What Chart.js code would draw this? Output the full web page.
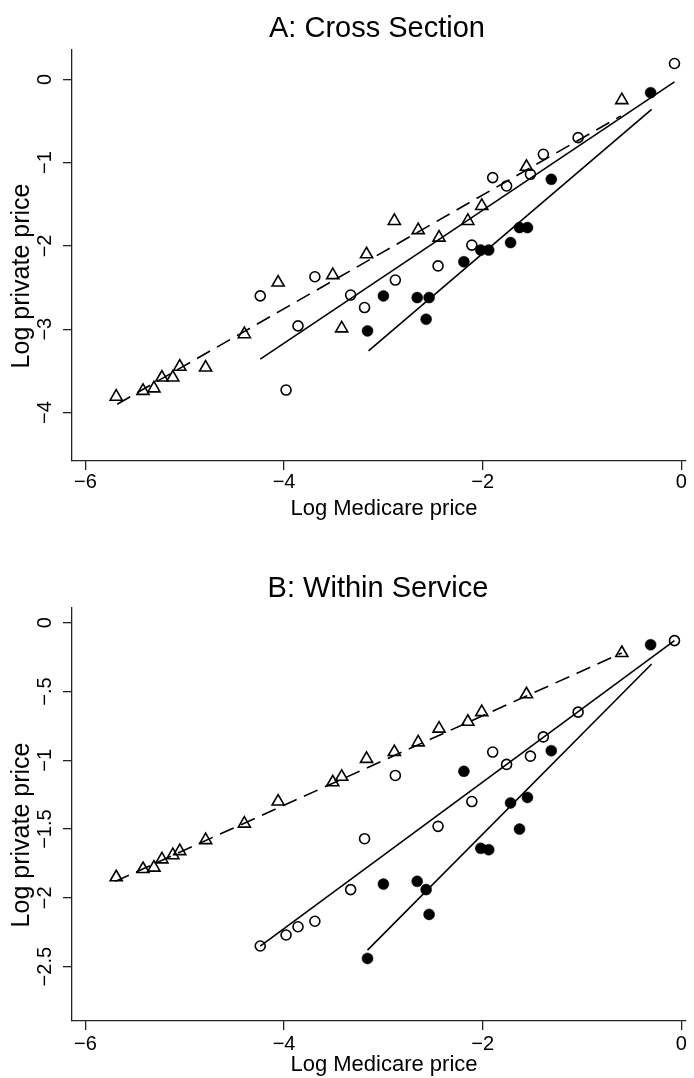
<!DOCTYPE html>
<html><head><meta charset="utf-8">
<script src="https://cdn.jsdelivr.net/npm/chart.js@4"></script>
<style>
html,body{margin:0;padding:0;background:#fff;}
#wrap{position:relative;width:694px;height:1078px;}
.c{position:absolute;left:0;width:694px;}
</style></head><body>
<div id="wrap">
<div class="c" style="top:0;height:530px"><canvas id="cA" width="694" height="530"></canvas></div>
<div class="c" style="top:530px;height:548px"><canvas id="cB" width="694" height="548"></canvas></div>
</div>
<script>
// ---- data ----
const xTicks = [-6, -4, -2, 0];
const xTickLabels = ["\u22126", "\u22124", "\u22122", "0"];
const yTicksA = [0, -1, -2, -3, -4];
const yTickLabelsA = ["0", "\u22121", "\u22122", "\u22123", "\u22124"];
const yTicksB = [0, -0.5, -1, -1.5, -2, -2.5];
const yTickLabelsB = ["0", "\u2212.5", "\u22121", "\u22121.5", "\u22122", "\u22122.5"];

const triX  = [-5.69,-5.42,-5.31,-5.23,-5.12,-5.05,-4.79,-4.40,-4.06,-3.51,-3.42,-3.17,-2.89,-2.65,-2.44,-2.15,-2.01,-1.56,-0.60];
const triYA = [-3.81,-3.74,-3.71,-3.58,-3.58,-3.45,-3.46,-3.06,-2.44,-2.35,-2.99,-2.10,-1.70,-1.81,-1.90,-1.70,-1.52,-1.05,-0.25];
const triYB = [-1.85,-1.79,-1.78,-1.72,-1.69,-1.66,-1.58,-1.46,-1.30,-1.16,-1.12,-0.99,-0.94,-0.87,-0.77,-0.72,-0.65,-0.52,-0.22];

const circX  = [-4.24,-3.98,-3.86,-3.69,-3.33,-3.19,-2.88,-2.45,-2.11,-1.90,-1.76,-1.52,-1.39,-1.04,-0.07];
const circYA = [-2.60,-3.73,-2.96,-2.37,-2.59,-2.74,-2.41,-2.24,-1.99,-1.18,-1.28,-1.14,-0.90,-0.70, 0.19];
const circYB = [-2.35,-2.27,-2.21,-2.17,-1.94,-1.57,-1.11,-1.48,-1.30,-0.94,-1.03,-0.97,-0.83,-0.65,-0.13];

const dotX  = [-3.16,-3.00,-2.66,-2.57,-2.54,-2.19,-2.02,-1.94,-1.72,-1.63,-1.55,-1.31,-0.31];
const dotYA = [-3.02,-2.60,-2.62,-2.88,-2.62,-2.19,-2.05,-2.05,-1.96,-1.78,-1.78,-1.20,-0.16];
const dotYB = [-2.44,-1.90,-1.88,-1.94,-2.12,-1.08,-1.64,-1.65,-1.31,-1.50,-1.27,-0.93,-0.16];

// fitted lines (end points)
const fitTriXA = [-5.68, -0.61], fitTriYA = [-3.90, -0.44];
const fitCircXA = [-4.24, -0.07], fitCircYA = [-3.36, -0.03];
const fitDotXA = [-3.15, -0.30], fitDotYA = [-3.26, -0.36];
const fitTriXB = [-5.70, -0.60], fitTriYB = [-1.88, -0.22];
const fitCircXB = [-4.24, -0.07], fitCircYB = [-2.35, -0.13];
const fitDotXB = [-3.16, -0.30], fitDotYB = [-2.38, -0.30];

// ---- drawing ----
const FAMILY = '"Liberation Sans", Arial, Helvetica, sans-serif';
Chart.defaults.font.family = FAMILY;
const TICK_FS = 20;
const pts = (xs, ys) => xs.map((x, i) => ({x: x, y: ys[i]}));

const textPlugin = {
  id: 'texts',
  afterDraw(chart, args, o) {
    const ctx = chart.ctx;
    ctx.save();
    ctx.fillStyle = '#000';
    ctx.textAlign = 'center';
    ctx.textBaseline = 'alphabetic';
    ctx.font = o.titleSize + 'px ' + FAMILY;
    ctx.fillText(o.title, o.titleX, o.titleY);
    ctx.font = o.xTitleSize + 'px ' + FAMILY;
    ctx.fillText(o.xTitle, o.xTitleX, o.xTitleY);
    ctx.font = o.yTitleSize + 'px ' + FAMILY;
    ctx.translate(o.yTitleX, o.yTitleY);
    ctx.rotate(-Math.PI / 2);
    ctx.fillText(o.yTitle, 0, 0);
    ctx.restore();
  }
};

function build(id, p) {
  const c = document.getElementById(id);
  const mctx = c.getContext('2d');
  mctx.font = TICK_FS + 'px ' + FAMILY;
  const widest = Math.max.apply(null, p.yLabels.map(s => mctx.measureText(s).width));
  const yPad = 72 - 9 - 45 - widest / 2;
  const lineDs = (xs, ys, dash) => ({data: pts(xs, ys), showLine: true, borderDash: dash, borderColor: '#000',
    borderWidth: 1.6, pointRadius: 0, fill: false, clip: false});
  new Chart(c, {
    type: 'scatter',
    data: {datasets: [
      lineDs(p.fitTri[0], p.fitTri[1], [15, 8]),
      lineDs(p.fitCirc[0], p.fitCirc[1], []),
      lineDs(p.fitDot[0], p.fitDot[1], []),
      {data: pts(triX, p.triY), pointStyle: 'triangle', pointRadius: 7, borderColor: '#000', borderWidth: 1.6,
        backgroundColor: 'rgba(0,0,0,0)', showLine: false, clip: false},
      {data: pts(circX, p.circY), pointStyle: 'circle', pointRadius: 5, borderColor: '#000', borderWidth: 1.6,
        backgroundColor: 'rgba(0,0,0,0)', showLine: false, clip: false},
      {data: pts(dotX, p.dotY), pointStyle: 'circle', pointRadius: 5.5, borderColor: '#000', borderWidth: 0.5,
        backgroundColor: '#000', showLine: false, clip: false}
    ]},
    options: {
      responsive: false, animation: false, events: [],
      layout: {padding: {left: 0, right: 6, top: p.areaTop, bottom: p.canvasH - p.areaBottom - p.xAxisH}},
      plugins: {legend: {display: false}, tooltip: {enabled: false}, texts: p.texts},
      scales: {
        x: {type: 'linear', min: -6.135, max: 0.04,
          afterFit(s) { s.height = p.xAxisH; },
          afterBuildTicks(s) { s.ticks = xTicks.map(v => ({value: v})); },
          ticks: {callback: (v, i) => xTickLabels[i], font: {size: TICK_FS}, color: '#000', padding: p.xPad,
            autoSkip: false, maxRotation: 0, minRotation: 0},
          grid: {display: true, drawOnChartArea: false, drawTicks: true, tickLength: 9, color: '#222', lineWidth: 1.3},
          border: {display: true, color: '#222', width: 1.3}
        },
        y: {type: 'linear', min: p.yMin, max: p.yMax,
          afterFit(s) { s.width = 72; },
          afterBuildTicks(s) { s.ticks = p.yTicks.map(v => ({value: v})); },
          ticks: {callback: (v, i) => p.yLabels[i], font: {size: TICK_FS}, color: '#000', padding: yPad,
            autoSkip: false, minRotation: 90, maxRotation: 90, crossAlign: 'center'},
          grid: {display: true, drawOnChartArea: false, drawTicks: true, tickLength: 9, color: '#222', lineWidth: 1.3},
          border: {display: true, color: '#222', width: 1.3}
        }
      }
    },
    plugins: [textPlugin]
  });
}

build('cA', {
  canvasH: 530, areaTop: 50, areaBottom: 461, xAxisH: 40, xPad: 0,
  yMin: -4.582, yMax: 0.352, yTicks: yTicksA, yLabels: yTickLabelsA,
  triY: triYA, circY: circYA, dotY: dotYA,
  fitTri: [fitTriXA, fitTriYA], fitCirc: [fitCircXA, fitCircYA], fitDot: [fitDotXA, fitDotYA],
  texts: {title: 'A: Cross Section', titleSize: 29, titleX: 377, titleY: 37,
    xTitle: 'Log Medicare price', xTitleSize: 22, xTitleX: 384, xTitleY: 515,
    yTitle: 'Log private price', yTitleSize: 25, yTitleX: 29, yTitleY: 276}
});
build('cB', {
  canvasH: 548, areaTop: 78, areaBottom: 491, xAxisH: 40, xPad: 2,
  yMin: -2.895, yMax: 0.107, yTicks: yTicksB, yLabels: yTickLabelsB,
  triY: triYB, circY: circYB, dotY: dotYB,
  fitTri: [fitTriXB, fitTriYB], fitCirc: [fitCircXB, fitCircYB], fitDot: [fitDotXB, fitDotYB],
  texts: {title: 'B: Within Service', titleSize: 29, titleX: 378, titleY: 67,
    xTitle: 'Log Medicare price', xTitleSize: 22, xTitleX: 384, xTitleY: 541,
    yTitle: 'Log private price', yTitleSize: 25, yTitleX: 29, yTitleY: 305}
});
</script>
</body></html>
